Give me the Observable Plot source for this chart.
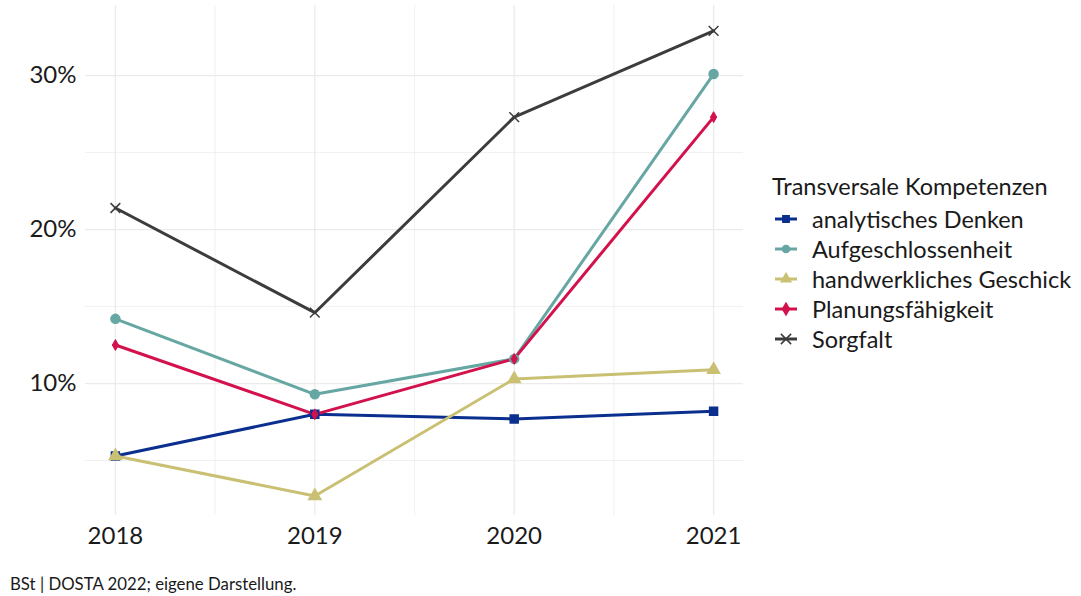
<!DOCTYPE html>
<html><head><meta charset="utf-8">
<script src="https://cdn.jsdelivr.net/npm/d3@7"></script>
<script src="https://cdn.jsdelivr.net/npm/@observablehq/plot@0.6"></script>
<style>
body{margin:0;background:#fff;font-family:Lato,"Noto Sans",sans-serif;}
#wrap{position:relative;width:1081px;height:596px;overflow:hidden;}
#legend{position:absolute;left:772px;top:171px;color:#1a1a1a;font-size:23.5px;white-space:nowrap;}
#legend .title{height:30px;line-height:30px;margin-bottom:3px;}
#legend .item{display:flex;align-items:center;height:30px;line-height:30px;}
#legend svg{margin-right:14px;margin-left:2px;}
#caption{position:absolute;left:10px;top:574px;font-size:16.8px;line-height:20px;color:#1a1a1a;}
</style></head><body>
<div id="wrap"><div id="chart"></div><div id="legend"></div><div id="caption">BSt | DOSTA 2022; eigene Darstellung.</div></div>
<script>
const years = [2018, 2019, 2020, 2021];
const seriesNames = ["analytisches Denken", "Aufgeschlossenheit", "handwerkliches Geschick", "Planungsfähigkeit", "Sorgfalt"];
const analytischesDenken = [5.3, 8.0, 7.7, 8.2];
const aufgeschlossenheit = [14.2, 9.3, 11.6, 30.1];
const handwerklichesGeschick = [5.3, 2.7, 10.3, 10.9];
const planungsfaehigkeit = [12.5, 8.0, 11.6, 27.3];
const sorgfalt = [21.4, 14.6, 27.3, 32.9];
const seriesValues = [analytischesDenken, aufgeschlossenheit, handwerklichesGeschick, planungsfaehigkeit, sorgfalt];
const colors = ["#0b2f8e", "#66a7a4", "#c9c073", "#d3124d", "#3c3c3c"];
const symbols = ["square", "circle", "triangle", "diamond", "times"];
const yTicks = [10, 20, 30];
const yMinor = [5, 15, 25];
const xMinor = [2018.5, 2019.5, 2020.5];
const legendTitle = "Transversale Kompetenzen";

const data = [];
seriesNames.forEach((s, i) => years.forEach((y, j) => data.push({series: s, year: y, value: seriesValues[i][j], sym: symbols[i]})));

const grid = "#ebebeb";
const chart = Plot.plot({
  width: 1081, height: 560,
  marginLeft: 85, marginRight: 338, marginTop: 5, marginBottom: 45,
  style: {fontFamily: "Lato, sans-serif", fontSize: "24px", color: "#1a1a1a", background: "white"},
  x: {domain: [2017.85, 2021.15]},
  y: {domain: [1.43, 34.55]},
  color: {domain: seriesNames, range: colors},
  symbol: {domain: seriesNames, range: symbols},
  marks: [
    Plot.ruleY(yMinor, {stroke: grid, strokeWidth: 0.7}),
    Plot.ruleX(xMinor, {stroke: grid, strokeWidth: 0.7}),
    Plot.ruleY(yTicks, {stroke: grid, strokeWidth: 1.3}),
    Plot.ruleX(years, {stroke: grid, strokeWidth: 1.3}),
    Plot.axisX({ticks: years, tickFormat: d => String(d), tickSize: 0, tickPadding: 11, label: null, fill: "#1a1a1a"}),
    Plot.axisY({ticks: yTicks, tickFormat: d => d + "%", tickSize: 0, tickPadding: 9, label: null, fill: "#1a1a1a"}),
    Plot.line(data, {x: "year", y: "value", z: "series", stroke: "series", strokeWidth: 3}),
    Plot.dot(data.filter(d => d.sym !== "diamond"), {x: "year", y: "value", symbol: "series", fill: "series", stroke: "series", r: 4.5, strokeWidth: 1.5}),
    Plot.dot(data.filter(d => d.sym === "diamond"), {x: "year", y: "value", symbol: "series", fill: "series", stroke: "series", r: 3.3, strokeWidth: 1})
  ]
});
document.getElementById("chart").appendChild(chart);

const leg = d3.select("#legend");
leg.append("div").attr("class", "title").text(legendTitle);
const symMap = {square: d3.symbolSquare, circle: d3.symbolCircle, triangle: d3.symbolTriangle, diamond: d3.symbolDiamond, times: d3.symbolTimes};
seriesNames.forEach((s, i) => {
  const it = leg.append("div").attr("class", "item");
  const sv = it.append("svg").attr("width", 24).attr("height", 14);
  sv.append("line").attr("x1", 1).attr("x2", 23).attr("y1", 7).attr("y2", 7).attr("stroke", colors[i]).attr("stroke-width", 3);
  const isTimes = symbols[i] === "times";
  sv.append("path").attr("transform", "translate(12,7)")
    .attr("d", d3.symbol(symMap[symbols[i]], isTimes ? 70 : 40)())
    .attr("fill", isTimes ? "none" : colors[i]).attr("stroke", colors[i]).attr("stroke-width", 1.5);
  it.append("span").text(s);
});
</script>
</body></html>
